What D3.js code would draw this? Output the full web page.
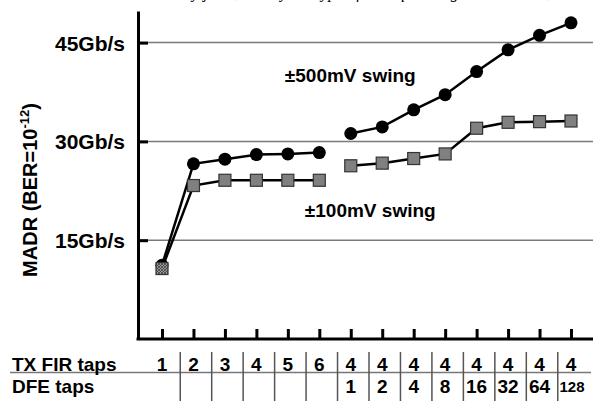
<!DOCTYPE html>
<html>
<head>
<meta charset="utf-8">
<script src="https://cdn.jsdelivr.net/npm/d3@7"></script>
<style>
  body { margin: 0; background: #fff; }
  svg { display: block; }
  text { font-family: "Liberation Sans", Arial, sans-serif; font-weight: bold; fill: #000; }
  .caption { font-family: "Liberation Serif", "Times New Roman", serif; font-weight: normal; font-style: italic; }
</style>
</head>
<body>
<svg id="chart" width="593" height="401"></svg>
<script>
// index of each measured configuration
const points = d3.range(14);
// TX FIR taps / DFE taps for each point (table under the chart)
const txTaps = ["1", "2", "3", "4", "5", "6", "4", "4", "4", "4", "4", "4", "4", "4"];
const dfeTaps = ["", "", "", "", "", "", "1", "2", "4", "8", "16", "32", "64", "128"];
// MADR in Gb/s
const swing500 = [11.2, 26.6, 27.3, 28.0, 28.1, 28.3, 31.2, 32.2, 34.8, 37.1, 40.6, 43.9, 46.1, 48.0];
const swing100 = [10.7, 23.3, 24.1, 24.1, 24.1, 24.1, 26.3, 26.7, 27.4, 28.1, 32.0, 32.9, 33.0, 33.1];
// the lines are broken between TX-only and TX+DFE runs
const segments = [[0, 5], [6, 13]];
const yTicks = [15, 30, 45];

const svg = d3.select("#chart");
const width = 593;

const x = d3.scalePoint().domain(points).range([162, 571]);
const y = d3.scaleLinear().domain([0, 49.8]).range([339, 11]);
const axisX = 138;

// caption of the page above, cut off by the picture's top edge
svg.append("text")
    .attr("class", "caption")
    .attr("x", 118)
    .attr("y", -2)
    .attr("font-size", 16)
    .attr("textLength", 466)
    .attr("lengthAdjust", "spacing")
    .text("is limited by jitter, and by the type of the equalizing circuits [16], [17]");

// hatch pattern for the overlapping first marker
const defs = svg.append("defs");
const hatch = defs.append("pattern")
    .attr("id", "hatch")
    .attr("width", 3).attr("height", 3)
    .attr("patternUnits", "userSpaceOnUse");
hatch.append("rect").attr("width", 3).attr("height", 3).attr("fill", "#9a9a9a");
hatch.append("path").attr("d", "M0 0 L3 3 M3 0 L0 3").attr("stroke", "#333").attr("stroke-width", 0.7);

// gridlines
svg.append("g")
    .selectAll("line")
    .data(yTicks)
    .join("line")
    .attr("x1", axisX)
    .attr("x2", width)
    .attr("y1", d => y(d))
    .attr("y2", d => y(d))
    .attr("stroke", "#7a7a7a")
    .attr("stroke-width", 1.5);

// y axis
const yAxis = svg.append("g")
    .attr("transform", "translate(" + axisX + ",0)")
    .call(d3.axisLeft(y)
        .tickValues(yTicks)
        .tickSizeInner(-10)
        .tickSizeOuter(0)
        .tickPadding(13)
        .tickFormat(d => d + "Gb/s"));
yAxis.select(".domain").attr("stroke", "#000").attr("stroke-width", 3);
yAxis.selectAll(".tick line").attr("stroke", "#000").attr("stroke-width", 3);
yAxis.selectAll(".tick text")
    .attr("font-size", 21)
    .attr("font-family", "Liberation Sans, Arial, sans-serif")
    .attr("font-weight", "bold")
    .attr("fill", "#000")
    .attr("dy", "0.36em");

// x axis
const xAxis = svg.append("g")
    .attr("transform", "translate(0," + y(0) + ")")
    .call(d3.axisBottom(x)
        .tickSizeInner(-10)
        .tickSizeOuter(0)
        .tickFormat(""));
xAxis.select(".domain").remove();
xAxis.selectAll(".tick line").attr("stroke", "#000").attr("stroke-width", 3);
svg.append("line")
    .attr("x1", axisX - 1.5)
    .attr("x2", width)
    .attr("y1", y(0))
    .attr("y2", y(0))
    .attr("stroke", "#000")
    .attr("stroke-width", 3);

// y axis title
const title = svg.append("text")
    .attr("transform", "translate(37,190) rotate(-90)")
    .attr("text-anchor", "middle")
    .attr("font-size", 20);
title.append("tspan").text("MADR (BER=10");
title.append("tspan").attr("font-size", 13).attr("dy", -8).text("-12");
title.append("tspan").attr("dy", 8).text(")");

// series lines
const line = d3.line()
    .x(d => x(d.i))
    .y(d => y(d.v));

function drawSeries(values){
    segments.forEach(function(seg){
        const pts = d3.range(seg[0], seg[1] + 1).map(i => ({i: i, v: values[i]}));
        svg.append("path")
            .attr("d", line(pts))
            .attr("fill", "none")
            .attr("stroke", "#000")
            .attr("stroke-width", 2.5);
    });
}
drawSeries(swing500);
drawSeries(swing100);

// markers
svg.append("g")
    .selectAll("circle")
    .data(points)
    .join("circle")
    .attr("cx", d => x(d))
    .attr("cy", d => y(swing500[d]))
    .attr("r", 6.5)
    .attr("fill", "#000");

const sq = 12;
svg.append("g")
    .selectAll("rect")
    .data(points)
    .join("rect")
    .attr("x", d => x(d) - sq / 2)
    .attr("y", d => y(swing100[d]) - sq / 2)
    .attr("width", sq)
    .attr("height", sq)
    .attr("fill", d => d === 0 ? "url(#hatch)" : "#808080")
    .attr("stroke", "#333")
    .attr("stroke-width", 1.2);

// series labels
svg.append("text")
    .attr("x", x(4) - 3)
    .attr("y", 82)
    .attr("font-size", 19)
    .text("±500mV swing");
svg.append("text")
    .attr("x", x(4) + 17)
    .attr("y", 217)
    .attr("font-size", 19)
    .text("±100mV swing");

// table under the chart
const row1 = 371, row2 = 393;
svg.append("line")
    .attr("x1", 10).attr("x2", 591)
    .attr("y1", row1 + 1.5).attr("y2", row1 + 1.5)
    .attr("stroke", "#777")
    .attr("stroke-width", 1.5);

svg.append("g")
    .selectAll("line")
    .data(points.slice(1))
    .join("line")
    .attr("x1", d => (x(d - 1) + x(d)) / 2 + 2.5)
    .attr("x2", d => (x(d - 1) + x(d)) / 2 + 2.5)
    .attr("y1", 352)
    .attr("y2", 401)
    .attr("stroke", "#555")
    .attr("stroke-width", 1.5);

svg.append("text").attr("x", 12).attr("y", row1).attr("font-size", 19).text("TX FIR taps");
svg.append("text").attr("x", 12).attr("y", row2).attr("font-size", 19).text("DFE taps");

svg.append("g")
    .selectAll("text")
    .data(points)
    .join("text")
    .attr("x", d => x(d))
    .attr("y", row1)
    .attr("text-anchor", "middle")
    .attr("font-size", 19)
    .text(d => txTaps[d]);

svg.append("g")
    .selectAll("text")
    .data(points)
    .join("text")
    .attr("x", d => x(d) + (dfeTaps[d] === "128" ? 1 : 0))
    .attr("y", d => dfeTaps[d] === "128" ? row2 - 1 : row2)
    .attr("text-anchor", "middle")
    .attr("font-size", d => dfeTaps[d] === "128" ? 15 : 19)
    .text(d => dfeTaps[d]);
</script>
</body>
</html>
